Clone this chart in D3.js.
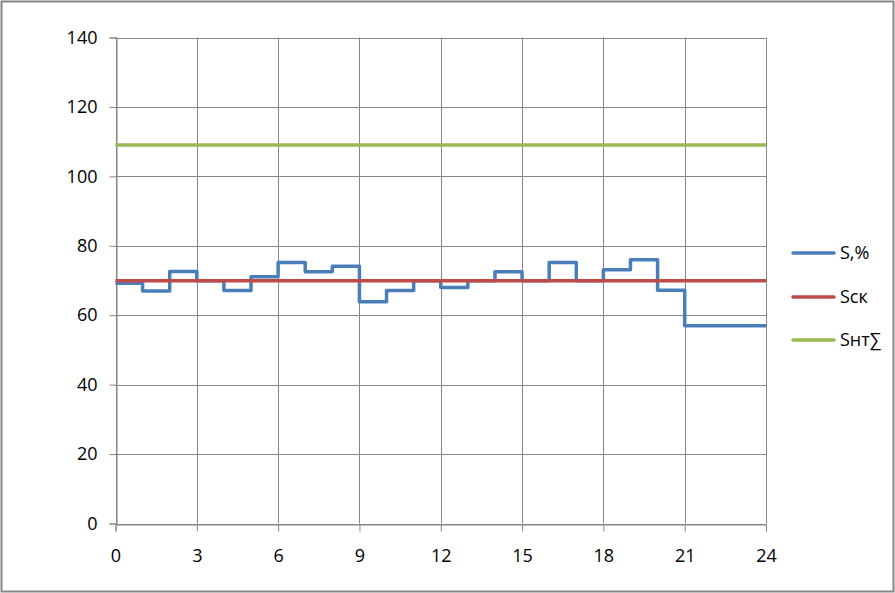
<!DOCTYPE html>
<html><head><meta charset="utf-8">
<script src="https://cdn.jsdelivr.net/npm/d3@7"></script>
<style>html,body{margin:0;padding:0;background:#fff;}svg{display:block;}</style>
</head><body>
<svg id="chart" width="895" height="593"></svg>
<script>
const hours = [0,1,2,3,4,5,6,7,8,9,10,11,12,13,14,15,16,17,18,19,20,21,22,23,24];
const sValues = [69.2,67,72.6,69.9,67.1,71.1,75.2,72.5,74.1,63.9,67.1,69.9,68,69.9,72.5,69.9,75.2,69.9,73.1,76,67.2,57,57,57,57];
const sckValue = 69.9;
const shtValue = 109;
const xTicks = [0,3,6,9,12,15,18,21,24];
const yTicks = [0,20,40,60,80,100,120,140];
const seriesNames = ["S,%","Sск","Sнт∑"];
const seriesColors = ["#4a7ebb","#be4b48","#98b954"];

const svg = d3.select("#chart");
const font = "'Open Sans', 'Noto Sans', sans-serif";
const grid = "#868686";

svg.append("rect").attr("x",1.5).attr("y",1.5).attr("width",892).attr("height",590)
  .attr("fill","#fff").attr("stroke",grid).attr("stroke-width",2);

const x = d3.scaleLinear().domain([0,24]).range([115.5,766]);
const y = d3.scaleLinear().domain([0,140]).range([523.5,37.5]);

// grid
svg.append("g").selectAll("line.h").data(yTicks).join("line")
  .attr("x1",x(0)).attr("x2",x(24)).attr("y1",d=>Math.round(y(d))+0.5).attr("y2",d=>Math.round(y(d))+0.5)
  .attr("stroke",grid).attr("stroke-width",1);
svg.append("g").selectAll("line.v").data(xTicks).join("line")
  .attr("y1",y(0)).attr("y2",y(140)).attr("x1",d=>Math.round(x(d))+0.5).attr("x2",d=>Math.round(x(d))+0.5)
  .attr("stroke",grid).attr("stroke-width",1);

// axes
const yAxis = d3.axisLeft(y).tickValues(yTicks).tickSize(7).tickPadding(12).tickFormat(d3.format("d"));
const gy = svg.append("g").attr("transform",`translate(${Math.round(x(0))+0.5},0)`).call(yAxis);
const xAxis = d3.axisBottom(x).tickValues(xTicks).tickSize(7).tickPadding(18).tickFormat(d3.format("d"));
const gx = svg.append("g").attr("transform",`translate(0,${Math.round(y(0))+0.5})`).call(xAxis);
[gx,gy].forEach(g=>{
  g.select(".domain").attr("stroke",grid);
  g.selectAll(".tick line").attr("stroke",grid);
  g.selectAll(".tick text").attr("fill","#000").style("font-family",font).style("font-size","18px");
});

// lines
const line = d3.line().x(d=>x(d[0])).y(d=>y(d[1]));
svg.append("path").datum(hours.map(h=>[h,shtValue])).attr("d",line)
  .attr("fill","none").attr("stroke",seriesColors[2]).attr("stroke-width",3.5);
svg.append("path").datum(hours.map((h,i)=>[h,sValues[i]])).attr("d",line.curve(d3.curveStepAfter))
  .attr("fill","none").attr("stroke",seriesColors[0]).attr("stroke-width",3.5).attr("stroke-linejoin","round");
svg.append("path").datum(hours.map(h=>[h,sckValue])).attr("d",d3.line().x(d=>x(d[0])).y(d=>y(d[1])))
  .attr("fill","none").attr("stroke",seriesColors[1]).attr("stroke-width",3.5);

// legend
const legY = [253,297,340];
const lg = svg.append("g");
seriesNames.forEach((n,i)=>{
  lg.append("line").attr("x1",793).attr("x2",834).attr("y1",legY[i]).attr("y2",legY[i])
    .attr("stroke",seriesColors[i]).attr("stroke-width",3.5).attr("stroke-linecap","round");
  lg.append("text").attr("x",840).attr("y",legY[i]).attr("dy","0.35em").text(n)
    .style("font-family",font).style("font-size","18px").attr("fill","#000");
});
</script>
</body></html>
